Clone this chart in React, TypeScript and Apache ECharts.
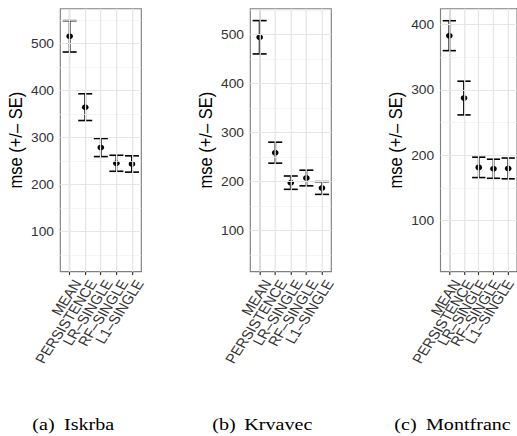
import React, { useEffect, useRef } from "react";
import * as echarts from "echarts";

// ---- data ----
const categories = ["MEAN", "PERSISTENCE", "LR–SINGLE", "RF–SINGLE", "L1–SINGLE"];
const siteNames = ["Iskrba", "Krvavec", "Montfranc"];
const captionTags = ["(a)", "(b)", "(c)"];

const iskrbaMse = [514.9, 364.5, 278.7, 245.3, 243.8];
const iskrbaSe = [33.3, 28.4, 19.2, 17.0, 17.3];
const krvavecMse = [494.7, 259.2, 198.0, 207.5, 187.1];
const krvavecSe = [34.0, 21.4, 13.6, 16.0, 13.0];
const montfrancMse = [383.2, 287.7, 181.6, 179.5, 180.0];
const montfrancSe = [22.9, 25.8, 15.6, 14.6, 15.9];

const yTickValues = [100, 200, 300, 400, 500];
const yMinorValues = [50, 150, 250, 350, 450, 550];
const yRanges = [
  [15, 573.6],
  [16.3, 553],
  [21.9, 424.5],
];
const xExpand = 0.6; // discrete-axis expansion (in category units)
const yTitle = "mse (+/– SE)";

const W = 450;
const H = 436;
const S = 517 / W; // horizontal stretch of the whole figure

const SANS = "'Liberation Sans', Arial, Helvetica, sans-serif";
const SERIF = "'Liberation Serif', 'Times New Roman', Times, serif";

export default function App() {
  const ref = useRef<HTMLDivElement>(null);

  useEffect(() => {
    if (!ref.current) return;
    const chart = echarts.init(ref.current, null, { renderer: "svg" });

    const sites = [
      { mse: iskrbaMse, se: iskrbaSe },
      { mse: krvavecMse, se: krvavecSe },
      { mse: montfrancMse, se: montfrancSe },
    ];
    const n = categories.length;
    const panelLeft = [60.3, 250.3, 440.5]; // in stretched page px
    const panelWidth = 81;
    const top = 8.7;
    const height = 263;
    const catIdx = categories.map((_, j) => j);

    const grids: any[] = [];
    const xAxes: any[] = [];
    const yAxes: any[] = [];
    const series: any[] = [];

    sites.forEach((site, i) => {
      const left = panelLeft[i] / S;
      const width = panelWidth / S;
      // main panel grid
      grids.push({
        left,
        top,
        width,
        height,
        show: true,
        borderColor: "#808080",
        borderWidth: 1,
        backgroundColor: "transparent",
        containLabel: false,
      });
      xAxes.push({
        gridIndex: i,
        type: "value",
        min: -xExpand,
        max: n - 1 + xExpand,
        axisLine: { show: true, lineStyle: { color: "#808080", width: 1 } },
        axisTick: {
          show: true,
          customValues: catIdx,
          length: 3.3,
          lineStyle: { color: "#333", width: 1 },
        },
        axisLabel: { show: false },
        splitLine: { show: false },
      });
      yAxes.push({
        gridIndex: i,
        type: "value",
        min: yRanges[i][0],
        max: yRanges[i][1],
        axisLine: { show: true, lineStyle: { color: "#808080", width: 1 } },
        axisTick: {
          show: true,
          customValues: yTickValues,
          length: 3 / S,
          lineStyle: { color: "#333", width: 1 },
        },
        axisLabel: {
          show: true,
          customValues: yTickValues,
          showMinLabel: true,
          showMaxLabel: true,
          margin: 5.5,
          fontSize: 12,
          fontFamily: SANS,
          color: "#333",
        },
        splitLine: { show: false },
        minorSplitLine: { show: false },
        name: yTitle,
        nameLocation: "middle",
        nameGap: 30.2,
        nameTextStyle: { fontSize: 16.5, fontFamily: SANS, color: "#000" },
      });

      const lo = yRanges[i][0];
      const hi = yRanges[i][1];
      const gridLines: any[] = [
        ...yMinorValues
          .filter((v) => v > lo && v < hi)
          .map((v) => ({ yAxis: v, lineStyle: { color: "#f1f1f1", width: 0.7, type: "solid" } })),
        ...yTickValues
          .filter((v) => v > lo && v < hi)
          .map((v) => ({ yAxis: v, lineStyle: { color: "#e6e6e6", width: 1.1, type: "solid" } })),
        ...catIdx.map((j) => ({ xAxis: j, lineStyle: { color: "#e6e6e6", width: 1.1, type: "solid" } })),
      ];

      series.push({
        type: "line",
        xAxisIndex: i,
        yAxisIndex: i,
        data: site.mse.map((v, j) => [j, v]),
        symbol: "none",
        lineStyle: { opacity: 0, width: 0 },
        silent: true,
        z: 1,
        markLine: {
          silent: true,
          symbol: ["none", "none"],
          label: { show: false },
          emphasis: { disabled: true },
          data: gridLines,
        },
      });

      series.push({
        type: "custom",
        xAxisIndex: i,
        yAxisIndex: i,
        z: 3,
        silent: true,
        data: site.mse.map((v, j) => [j, v - site.se[j], v + site.se[j]]),
        encode: { x: 0, y: [1, 2] },
        renderItem: (params: any, api: any) => {
          const x = api.value(0);
          const pLo = api.coord([x, api.value(1)]);
          const pHi = api.coord([x, api.value(2)]);
          const half = api.size([0.9, 0])[0] / 2;
          const style = { stroke: "#000", lineWidth: 1.6, opacity: 1 };
          return {
            type: "group",
            children: [
              { type: "line", shape: { x1: pLo[0], y1: pLo[1], x2: pHi[0], y2: pHi[1] }, style },
              { type: "line", shape: { x1: pHi[0] - half, y1: pHi[1], x2: pHi[0] + half, y2: pHi[1] }, style },
              { type: "line", shape: { x1: pLo[0] - half, y1: pLo[1], x2: pLo[0] + half, y2: pLo[1] }, style },
            ],
          };
        },
      });

      series.push({
        type: "scatter",
        xAxisIndex: i,
        yAxisIndex: i,
        z: 4,
        silent: true,
        symbol: "circle",
        symbolSize: 5.8,
        itemStyle: { color: "#000", opacity: 1, borderWidth: 0 },
        data: site.mse.map((v, j) => [j, v]),
      });
    });

    // label-only grids: a category axis whose band centres coincide with the panel's category positions
    sites.forEach((_, i) => {
      const left = panelLeft[i] / S;
      const width = panelWidth / S;
      const span = n - 1 + 2 * xExpand;
      const unit = width / span;
      const gIdx = grids.length;
      grids.push({
        left: left + (xExpand - 0.5) * unit + 1.2,
        top,
        width: unit * n,
        height,
        show: false,
        containLabel: false,
      });
      xAxes.push({
        gridIndex: gIdx,
        type: "category",
        data: categories,
        boundaryGap: true,
        axisLine: { show: false },
        axisTick: { show: false },
        splitLine: { show: false },
        axisLabel: {
          show: true,
          interval: 0,
          rotate: 60,
          align: "right",
          verticalAlign: "top",
          margin: 6,
          fontSize: 13.3,
          fontFamily: SANS,
          color: "#333",
        },
      });
      yAxes.push({
        gridIndex: gIdx,
        type: "value",
        show: false,
        min: 0,
        max: 1,
      });
    });

    // captions (stretched page px)
    const tagX = [32.3, 212.3, 394.3];
    const nameX = [64, 244.3, 426];
    const captionY = 424;
    const graphic: any[] = [];
    siteNames.forEach((name, i) => {
      graphic.push({
        type: "text",
        x: tagX[i] / S,
        y: captionY,
        style: { text: captionTags[i], fontSize: 17.5, fontFamily: SERIF, fill: "#000", verticalAlign: "middle", align: "left" },
      });
      graphic.push({
        type: "text",
        x: nameX[i] / S,
        y: captionY,
        style: { text: name, fontSize: 17.5, fontFamily: SERIF, fill: "#000", verticalAlign: "middle", align: "left" },
      });
    });

    chart.setOption({
      animation: false,
      backgroundColor: "#fff",
      grid: grids,
      xAxis: xAxes,
      yAxis: yAxes,
      series,
      graphic,
    });

    return () => {
      chart.dispose();
    };
  }, []);

  return (
    <div
      ref={ref}
      style={{
        position: "fixed",
        left: 0,
        top: 0,
        width: W,
        height: H,
        transform: `scaleX(${S})`,
        transformOrigin: "0 0",
        background: "#fff",
      }}
    />
  );
}
